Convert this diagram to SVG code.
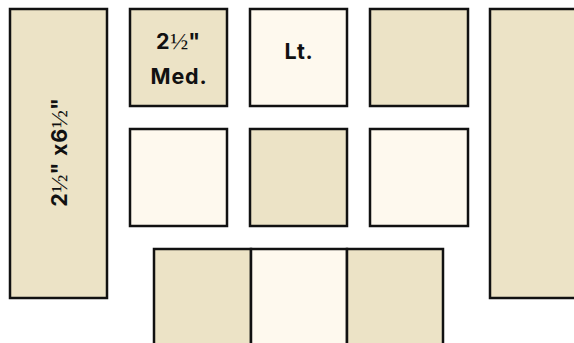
<svg xmlns="http://www.w3.org/2000/svg" width="574" height="343" viewBox="0 0 574 343">
<style>
.med{fill:#ECE3C6;stroke:#111;stroke-width:2.5}
.lt{fill:#FEF9EE;stroke:#111;stroke-width:2.5}
.t{font-family:Inter,"Open Sans","Liberation Sans",sans-serif;font-weight:bold;font-size:21.5px;letter-spacing:0.8px;fill:#111;text-anchor:middle}
.f{font-family:"Liberation Serif",serif;font-weight:normal;font-size:24px;letter-spacing:0}
</style>
<rect width="574" height="343" fill="#fff"/>
<g id="left-strip"><rect class="med" x="10" y="9" width="97" height="289"/>
<text class="t" transform="translate(67,152) rotate(-90)">2<tspan class="f">½</tspan>" x6<tspan class="f">½</tspan>"</text></g>
<g id="r1c1"><rect class="med" x="130" y="9" width="97" height="97"/>
<text class="t" x="178.5" y="49">2<tspan class="f">½</tspan>"</text><text class="t" x="179" y="84">Med.</text></g>
<g id="r1c2"><rect class="lt" x="250" y="9" width="97" height="97"/>
<text class="t" x="299" y="59">Lt.</text></g>
<g id="r1c3"><rect class="med" x="370" y="9" width="98" height="97"/></g>
<g id="right-strip"><rect class="med" x="490" y="9" width="97" height="289"/></g>
<g id="r2c1"><rect class="lt" x="130" y="129" width="97" height="97"/></g>
<g id="r2c2"><rect class="med" x="250" y="129" width="97" height="97"/></g>
<g id="r2c3"><rect class="lt" x="370" y="129" width="98" height="97"/></g>
<g id="b1"><rect class="med" x="154" y="249" width="97" height="110"/></g>
<g id="b2"><rect class="lt" x="251" y="249" width="96" height="110"/></g>
<g id="b3"><rect class="med" x="347" y="249" width="96" height="110"/></g>
<g id="connectors"></g>
</svg>
